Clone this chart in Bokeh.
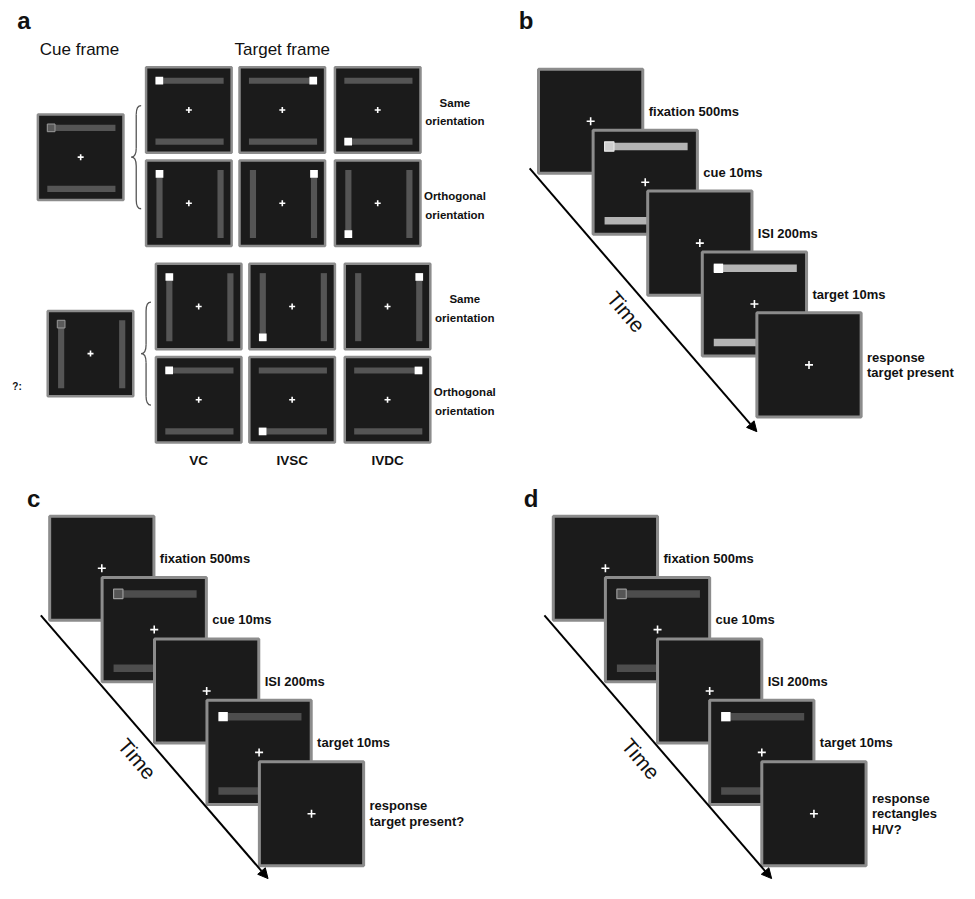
import numpy as np
from bokeh.plotting import figure
from bokeh.models import Range1d, Arrow, NormalHead
from bokeh.core.properties import value
from bokeh.embed import file_html
from bokeh.resources import INLINE

FONT = "Liberation Sans"

# ---------------- data / content ----------------
panel_letters = ["a", "b", "c", "d"]
panel_letter_x = [17, 527, 27, 532]
panel_letter_y = [20, 20, 507, 507]

# panel a
a_headers = ["Cue frame", "Target frame"]
a_header_x = [40, 238]
a_col_labels = ["VC", "IVSC", "IVDC"]
a_row_labels = [["Same", "orientation"], ["Orthogonal", "orientation"]]
a_block_cue_orient = ["h", "v"]
a_row_orient = [["h", "v"], ["v", "h"]]
a_target_corner = [[["tl", "tr", "bl"], ["tl", "tr", "bl"]],
                   [["tl", "bl", "tr"], ["tl", "bl", "tr"]]]
a_stray_text = "?:"

# sequences (b, c, d)
seq_labels = {
    "b": ["fixation 500ms", "cue 10ms", "ISI 200ms", "target 10ms", ["response", "target present"]],
    "c": ["fixation 500ms", "cue 10ms", "ISI 200ms", "target 10ms", ["response", "target present?"]],
    "d": ["fixation 500ms", "cue 10ms", "ISI 200ms", "target 10ms", ["response", "rectangles", "H/V?"]],
}
seq_frame_kind = ["fix", "cue", "isi", "target", "resp"]
time_label = "Time"

# ---------------- layout ----------------
FRAME_FILL = "#1b1b1b"
FRAME_LINE = "#8c8c8c"

p = figure(width=959, height=883, x_range=Range1d(0, 975), y_range=Range1d(899, 0),
           output_backend="svg", toolbar_location=None, min_border=0,
           x_axis_location=None, y_axis_location=None)
p.grid.visible = False
p.outline_line_color = None
p.background_fill_color = "white"
p.border_fill_color = "white"


def txt(xs, ys, texts, size, bold=True, align="left", angle=0, color="#111111"):
    p.text(x=xs, y=ys, text=texts, text_font=value(FONT), text_font_size=size,
           text_font_style="bold" if bold else "normal", text_align=align,
           text_baseline="middle", angle=angle, angle_units="deg", text_color=color)


def frame(x, y, s, lw=2.5):
    p.quad(left=[x], right=[x + s], top=[y], bottom=[y + s], fill_color=FRAME_FILL,
           line_color=FRAME_LINE, line_width=lw)


def bars(x, y, s, orient, color, only_visible=True):
    ins = 0.11 * s
    th = 0.072 * s
    if orient == "h":
        p.quad(left=[x + ins, x + ins], right=[x + s - ins * 0.85, x + s - ins * 0.85],
               top=[y + ins * 1.1, y + s - ins * 0.85 - th],
               bottom=[y + ins * 1.1 + th, y + s - ins * 0.85],
               fill_color=color, line_color=None)
    else:
        p.quad(left=[x + ins * 1.1, x + s - ins * 0.85 - th],
               right=[x + ins * 1.1 + th, x + s - ins * 0.85],
               top=[y + ins, y + ins], bottom=[y + s - ins * 0.85, y + s - ins * 0.85],
               fill_color=color, line_color=None)


def corner_square(x, y, s, orient, corner, fill, line=None, lw=1.0):
    ins = 0.11 * s
    th = 0.072 * s
    q = th * 1.25
    if orient == "h":
        cy_top = y + ins * 1.1 + th / 2
        cy_bot = y + s - ins * 0.85 - th / 2
        cx_l = x + ins + q / 2
        cx_r = x + s - ins * 0.85 - q / 2
    else:
        cx_l = x + ins * 1.1 + th / 2
        cx_r = x + s - ins * 0.85 - th / 2
        cy_top = y + ins + q / 2
        cy_bot = y + s - ins * 0.85 - q / 2
    cx = cx_l if corner[1] == "l" else cx_r
    cy = cy_top if corner[0] == "t" else cy_bot
    p.quad(left=[cx - q / 2], right=[cx + q / 2], top=[cy - q / 2], bottom=[cy + q / 2],
           fill_color=fill, line_color=line, line_width=lw)


def cross(x, y, s, size):
    p.scatter(x=[x + s / 2], y=[y + s / 2], marker="cross", size=size,
              line_color="white", line_width=1.6)


def brace(xl, xr, y0, y1, color="#555555", lw=1.3):
    xc = (xl + xr) / 2
    ym = (y0 + y1) / 2
    q = (xr - xl) * 0.9
    p.quadratic(x0=[xr, xc, xl, xc], y0=[y0, ym - q, ym, y1 - q],
                x1=[xc, xl, xc, xr], y1=[y0 + q, ym, ym + q, y1],
                cx=[xc, xc, xc, xc], cy=[y0, ym, ym, y1],
                line_color=color, line_width=lw)
    p.segment(x0=[xc, xc], y0=[y0 + q, ym + q], x1=[xc, xc], y1=[ym - q, y1 - q],
              line_color=color, line_width=lw)


# panel letters
txt(panel_letter_x, panel_letter_y, panel_letters, "24px")

# ---------------- panel a ----------------
txt(a_header_x, [50, 50], a_headers, "17px", bold=False)
S_A = 87
blocks = [dict(dx=0, dy=0), dict(dx=10, dy=200)]
cue_xy = (38, 116)
col_x = [148, 243, 340]
row_y = [68, 163]
A_BAR = "#555555"
for b, blk in enumerate(blocks):
    # cue frame
    cx0, cy0 = cue_xy[0] + blk["dx"], cue_xy[1] + blk["dy"]
    frame(cx0, cy0, S_A)
    bars(cx0, cy0, S_A, a_block_cue_orient[b], A_BAR)
    corner_square(cx0, cy0, S_A, a_block_cue_orient[b], "tl", "#5a5a5a", "#9a9a9a", 1.0)
    cross(cx0, cy0, S_A, 6)
    # brace
    brace(133 + blk["dx"], 143 + blk["dx"], 107 + blk["dy"], 212 + blk["dy"])
    for r in range(2):
        for c in range(3):
            fx, fy = col_x[c] + blk["dx"], row_y[r] + blk["dy"]
            frame(fx, fy, S_A)
            o = a_row_orient[b][r]
            bars(fx, fy, S_A, o, A_BAR)
            corner_square(fx, fy, S_A, o, a_target_corner[b][r][c], "white")
            cross(fx, fy, S_A, 6)
        lab = a_row_labels[r]
        ly = row_y[r] + blk["dy"] + 36
        txt([462 + blk["dx"]] * 2, [ly, ly + 19], lab, "11.5px", align="center")

txt([c + 10 + S_A / 2 for c in col_x], [468] * 3, a_col_labels, "13.5px", align="center")
txt([12], [393], [a_stray_text], "10px")

# ---------------- sequences b, c, d ----------------
S_Q = 106
seq_cfg = {
    "b": dict(x0=547, y0=70, dx=55.5, dy=62, bar="#b4b4b4", cue_fill="#cfcfcf", cue_line="#e6e6e6"),
    "c": dict(x0=50, y0=525, dx=53.3, dy=62.5, bar="#4d4d4d", cue_fill="#555555", cue_line="#9a9a9a"),
    "d": dict(x0=562, y0=525, dx=53, dy=62.5, bar="#4d4d4d", cue_fill="#555555", cue_line="#9a9a9a"),
}
for key, cfg in seq_cfg.items():
    labels = seq_labels[key]
    x0, y0 = cfg["x0"], cfg["y0"]
    # time arrow
    p.add_layout(Arrow(end=NormalHead(size=10, fill_color="black", line_color="black"),
                       x_start=x0 - 9, y_start=y0 + 101, x_end=x0 + 222, y_end=y0 + 369,
                       line_color="black", line_width=2))
    txt([x0 + 89], [y0 + 247], [time_label], "21px", bold=False, align="center", angle=-49.5)
    for i, kind in enumerate(seq_frame_kind):
        fx, fy = x0 + i * cfg["dx"], y0 + i * cfg["dy"]
        frame(fx, fy, S_Q, lw=3)
        if kind in ("cue", "target"):
            bars(fx, fy, S_Q, "h", cfg["bar"])
            if kind == "cue":
                corner_square(fx, fy, S_Q, "h", "tl", cfg["cue_fill"], cfg["cue_line"], 1.2)
            else:
                corner_square(fx, fy, S_Q, "h", "tl", "white")
        cross(fx, fy, S_Q, 8)
        lab = labels[i]
        if isinstance(lab, list):
            n = len(lab)
            ys = [fy + 53 + (k - (n - 1) / 2) * 16 for k in range(n)]
            txt([fx + S_Q + 6] * n, ys, lab, "13px")
        else:
            txt([fx + S_Q + 6], [fy + 43], [lab], "13px")

open("out.html", "w").write(file_html(p, INLINE))
